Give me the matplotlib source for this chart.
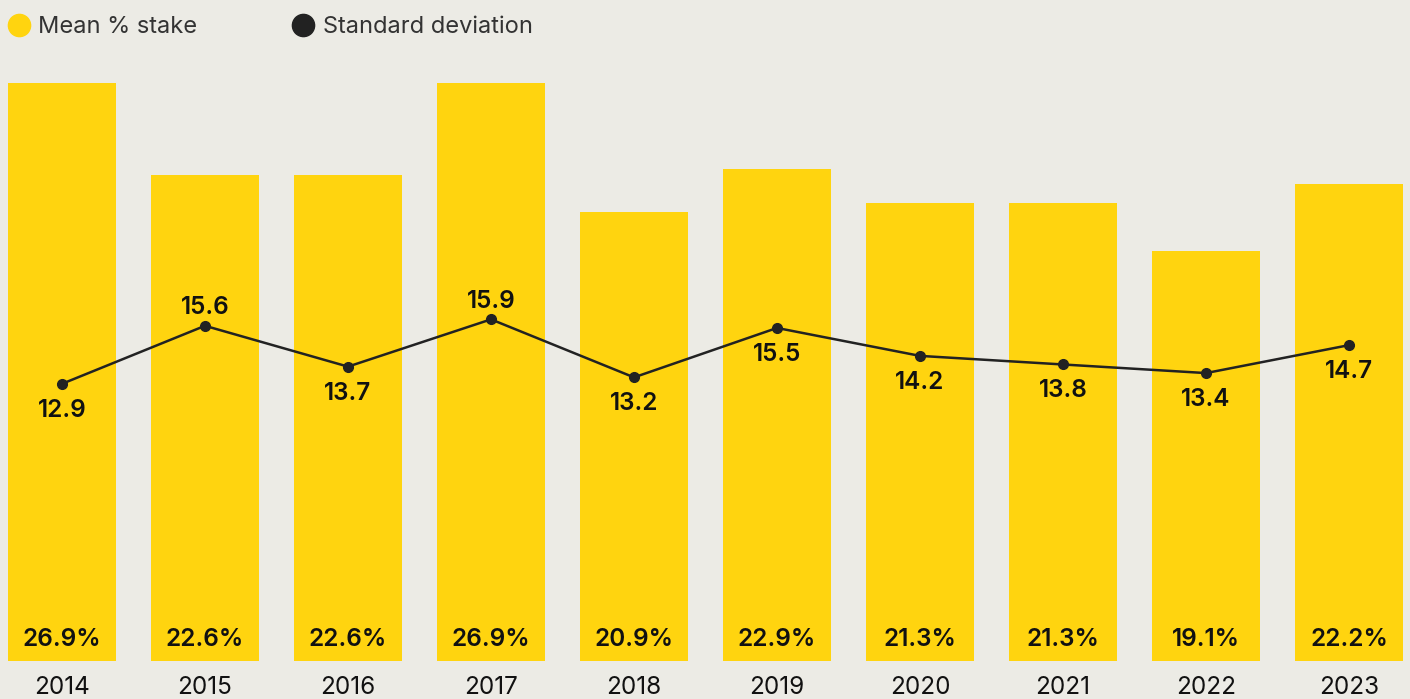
import matplotlib.pyplot as plt
from matplotlib.lines import Line2D

plt.rcParams['font.family'] = ['Inter', 'DejaVu Sans']

years = ["2014", "2015", "2016", "2017", "2018", "2019", "2020", "2021", "2022", "2023"]
mean_stake = [26.9, 22.6, 22.6, 26.9, 20.9, 22.9, 21.3, 21.3, 19.1, 22.2]
std_dev = [12.9, 15.6, 13.7, 15.9, 13.2, 15.5, 14.2, 13.8, 13.4, 14.7]
label_above = [False, True, False, True, False, False, False, False, False, False]

BG = "#ECEBE5"
YELLOW = "#FFD40F"
DARK = "#222222"

fig = plt.figure(figsize=(14.1, 6.99), dpi=100, facecolor=BG)
ax = fig.add_axes([0, 38 / 699, 1, 661 / 699])
ax.set_facecolor(BG)

x = list(range(len(years)))
ax.bar(x, mean_stake, width=0.755, color=YELLOW, zorder=1)
ax.plot(x, std_dev, color=DARK, lw=1.8, marker="o", ms=7, zorder=3)

for i in x:
    ax.text(i, 1.0, "{:.1f}%".format(mean_stake[i]), ha="center", va="center",
            fontsize=17.5, fontweight="semibold", color="#111111")
    ax.text(i, -1.25, years[i], ha="center", va="center", fontsize=17.5,
            color="#111111", clip_on=False)
    if label_above[i]:
        off = 13
    else:
        off = -19
    ax.annotate("{:.1f}".format(std_dev[i]), (i, std_dev[i]), xytext=(0, off),
                textcoords="offset points", ha="center", va="center",
                fontsize=17.5, fontweight="semibold", color="#111111")

ax.set_xlim(-62 / 143, (1410 - 62) / 143)
ax.set_ylim(0, 661 / (578 / 26.9))
ax.axis("off")

# legend
fig.add_artist(Line2D([19 / 1410], [1 - 25 / 699], marker="o", ms=16, color=YELLOW,
                      transform=fig.transFigure))
fig.text(38 / 1410, 1 - 27 / 699, "Mean % stake", ha="left", va="center",
         fontsize=17, color="#333333")
fig.add_artist(Line2D([303 / 1410], [1 - 25 / 699], marker="o", ms=16, color=DARK,
                      transform=fig.transFigure))
fig.text(323 / 1410, 1 - 27 / 699, "Standard deviation", ha="left", va="center",
         fontsize=17, color="#333333")

fig.savefig("out.png", dpi=100, facecolor=BG)
